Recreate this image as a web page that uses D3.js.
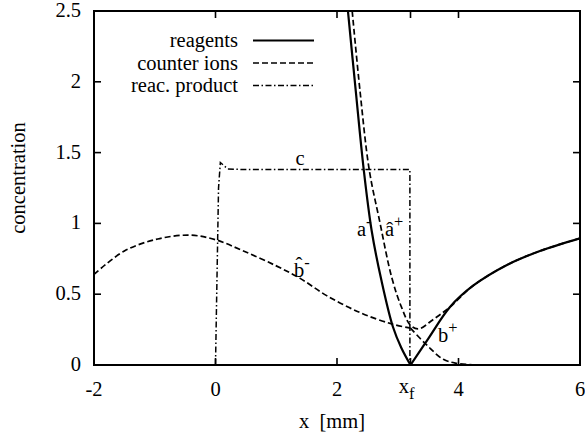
<!DOCTYPE html>
<html><head><meta charset="utf-8">
<script src="https://cdn.jsdelivr.net/npm/d3@7"></script>
<style>
body{margin:0;background:#fff;}
svg text{font-family:"Times New Roman","Liberation Serif",Tinos,"DejaVu Serif",serif;}
</style></head>
<body><svg id="c" width="585" height="436"></svg>
<script>
// ---- data ----
const xTicks = [-2, 0, 2, 4, 6];
const yTicks = [0, 0.5, 1, 1.5, 2, 2.5];
const xf = 3.21;
// reagents (solid): a- (left of front) and b+ (right of front)
const aMinus = [[2.18,2.5],[2.31,1.93],[2.44,1.38],[2.57,0.95],[2.73,0.6],[2.92,0.27],[3.06,0.12],[3.21,0]];
const bPlus = [[3.21,0],[3.5,0.185],[3.86,0.41],[4.24,0.56],[4.79,0.705],[5.34,0.805],[6,0.895]];
// counter ions (dashed): b^- and a^+
const bHatMinusL = [[-2,0.64],[-1.5,0.805],[-0.95,0.89],[-0.42,0.917],[0,0.885],[0.46,0.805],[1.0,0.70],[1.4,0.61],[1.83,0.49],[2.38,0.37],[2.9,0.29],[3.21,0.26]];
const bHatMinusR = [[3.21,0.26],[3.48,0.14],[3.75,0.04],[3.97,0.012],[4.27,0]];
const aHatPlus = [[2.25,2.5],[2.38,1.93],[2.53,1.38],[2.70,1.02],[2.9,0.62],[3.06,0.41],[3.21,0.28],[3.34,0.255],[3.58,0.32],[3.86,0.41],[4.24,0.56],[4.79,0.705],[5.34,0.805],[6,0.895]];
// reaction product c (dash-dot)
const cProd = [[0,0],[0.05,1.25],[0.08,1.43],[0.2,1.385],[0.5,1.38],[3.2,1.38],[3.2,0]];

const svg = d3.select("#c");
const L=94, R=580, T=11, B=365;
const x = d3.scaleLinear().domain([-2,6]).range([L,R]);
const y = d3.scaleLinear().domain([0,2.5]).range([B,T]);

svg.append("defs").append("clipPath").attr("id","clip")
  .append("rect").attr("x",L).attr("y",T).attr("width",R-L).attr("height",B-T);

const FS = 20.5;
function txt(xp,yp,s,anchor,size){
  return svg.append("text").attr("x",xp).attr("y",yp).attr("text-anchor",anchor||"start")
    .attr("font-size",size||FS).attr("fill","#000").text(s);
}
// ticks
const tl = 7;
const g = svg.append("g").attr("stroke","#000").attr("stroke-width",1.6);
[0,2,xf,4].forEach(v=>{
  g.append("line").attr("x1",x(v)).attr("x2",x(v)).attr("y1",B).attr("y2",B-tl);
  g.append("line").attr("x1",x(v)).attr("x2",x(v)).attr("y1",T).attr("y2",T+tl);
});
[0.5,1,1.5,2].forEach(v=>{
  g.append("line").attr("x1",L).attr("x2",L+tl).attr("y1",y(v)).attr("y2",y(v));
  g.append("line").attr("x1",R).attr("x2",R-tl).attr("y1",y(v)).attr("y2",y(v));
});
// tick labels
xTicks.forEach(v=>{ txt(x(v),396,String(v),"middle"); });
const xfT = txt(x(xf)-4,393,"","middle");
xfT.append("tspan").text("x");
xfT.append("tspan").attr("dy",6).attr("font-size",FS*0.8).text("f");
yTicks.forEach(v=>{ txt(81,y(v)+6,String(v),"end"); });
txt(332,428,"x  [mm]","middle").attr("xml:space","preserve").style("white-space","pre");
svg.append("text").attr("transform","translate(25,178) rotate(-90)").attr("text-anchor","middle")
  .attr("font-size",FS).text("concentration");

// curves
const line = d3.line().x(d=>x(d[0])).y(d=>y(d[1])).curve(d3.curveCatmullRom.alpha(0.5));
const lin = d3.line().x(d=>x(d[0])).y(d=>y(d[1]));
const cg = svg.append("g").attr("clip-path","url(#clip)").attr("fill","none").attr("stroke","#000");
const DASH="6,3", DDOT="6,2.5,1.5,2.5";
cg.append("path").attr("d",line(bHatMinusL)).attr("stroke-width",1.7).attr("stroke-dasharray",DASH);
cg.append("path").attr("d",line(bHatMinusR)).attr("stroke-width",1.7).attr("stroke-dasharray",DASH);
cg.append("path").attr("d",line(aHatPlus)).attr("stroke-width",1.7).attr("stroke-dasharray",DASH);
cg.append("path").attr("d",lin(cProd)).attr("stroke-width",1.5).attr("stroke-dasharray",DDOT);
cg.append("path").attr("d",line(aMinus)).attr("stroke-width",2.2);
cg.append("path").attr("d",line(bPlus)).attr("stroke-width",2.2);

// frame
svg.append("rect").attr("x",L).attr("y",T).attr("width",R-L).attr("height",B-T)
  .attr("fill","none").attr("stroke","#000").attr("stroke-width",2);

// curve labels
txt(300,165,"c","middle");
function lab(xp,yp,base,sup){
  const t = txt(xp,yp,"");
  t.append("tspan").text(base);
  t.append("tspan").attr("dy",-9).attr("font-size",FS*0.8).text(sup);
}
lab(357,236,"a","-");
lab(385,236,"\u00e2","+");
lab(294,277,"b\u0302","-");
lab(438,342,"b","+");

// legend
const legend = [["reagents",null,2.2],["counter ions",DASH,1.7],["reac. product",DDOT,1.5]];
legend.forEach((d,i)=>{
  const by = 47 + i*22.5;
  txt(238,by,d[0],"end");
  svg.append("line").attr("x1",253).attr("x2",314).attr("y1",by-6.5).attr("y2",by-6.5)
    .attr("stroke","#000").attr("stroke-width",d[2]).attr("stroke-dasharray",d[1]);
});
</script></body></html>
